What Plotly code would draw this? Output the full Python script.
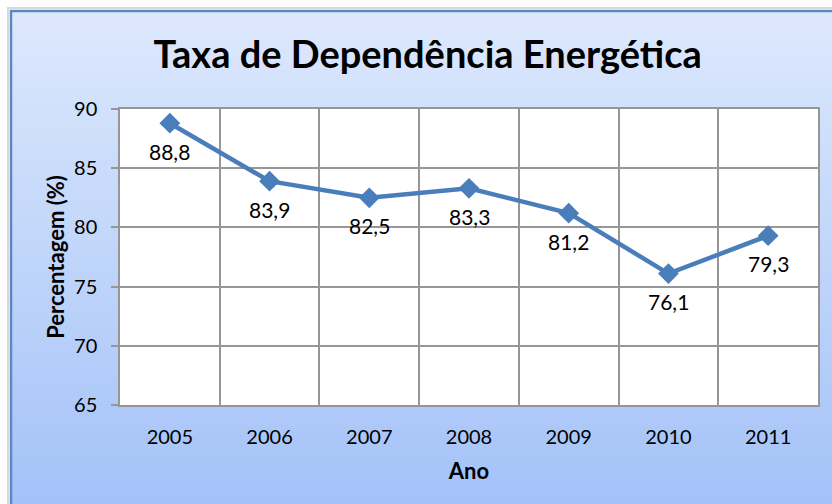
import plotly.graph_objects as go

years = ["2005", "2006", "2007", "2008", "2009", "2010", "2011"]
values = [88.8, 83.9, 82.5, 83.3, 81.2, 76.1, 79.3]
y_ticks = [65, 70, 75, 80, 85, 90]
labels = [f"{v:.1f}".replace(".", ",") for v in values]

W, H = 832, 504
ML, MR, MT, MB = 120, 14, 109, 99
PW, PH = W - ML - MR, H - MT - MB


def px_x(p):
    return (p - ML) / PW


def px_y(p):
    return (H - MB - p) / PH


FONT = "Lato"
LINE = "#4a7ebb"
GRID = "#969696"

fig = go.Figure()
fig.add_trace(go.Scatter(
    x=years, y=values, mode="lines+markers",
    line=dict(color=LINE, width=4.5),
    marker=dict(symbol="diamond", size=16, color=LINE),
    hoverinfo="skip", showlegend=False,
))

shapes = []
# gradient background
top = (221, 232, 252)
bot = (163, 194, 248)
n = 60
y0p, y1p = 11, H + 5
for i in range(n):
    t = i / (n - 1)
    c = tuple(round(top[k] + (bot[k] - top[k]) * t) for k in range(3))
    ya = y0p + (y1p - y0p) * i / n
    yb = y0p + (y1p - y0p) * (i + 1) / n + 0.8
    shapes.append(dict(type="rect", xref="paper", yref="paper",
                       x0=px_x(11), x1=px_x(W + 5), y0=px_y(ya), y1=px_y(yb),
                       fillcolor=f"rgb{c}", line=dict(width=0), layer="below"))
# frame shadow and border
shapes.append(dict(type="rect", xref="paper", yref="paper",
                   x0=px_x(8), x1=px_x(W + 10), y0=px_y(8), y1=px_y(H + 10),
                   fillcolor="rgba(0,0,0,0)", line=dict(color="rgba(180,180,180,0.5)", width=2), layer="below"))
shapes.append(dict(type="rect", xref="paper", yref="paper",
                   x0=px_x(11), x1=px_x(W + 10), y0=px_y(11), y1=px_y(H + 10),
                   fillcolor="rgba(0,0,0,0)", line=dict(color="#5b87c6", width=2.5), layer="below"))
# plot area
shapes.append(dict(type="rect", xref="paper", yref="paper",
                   x0=0, x1=1, y0=0, y1=1, fillcolor="white", line=dict(width=0), layer="below"))

annotations = [dict(x=i, y=v, xref="x", yref="y", text=lab, showarrow=False, yshift=-28,
                    font=dict(family=FONT, size=21, color="black"))
               for i, (v, lab) in enumerate(zip(values, labels))]

fig.update_layout(
    width=W, height=H,
    margin=dict(l=ML, r=MR, t=MT, b=MB),
    paper_bgcolor="white", plot_bgcolor="white",
    shapes=shapes, annotations=annotations,
    title=dict(text="<b>Taxa de Dependência Energética</b>", x=0.514, xanchor="center",
               y=1 - 55 / H, yanchor="middle", xref="container", yref="container",
               font=dict(family=FONT, size=38, color="black")),
    xaxis=dict(type="category", range=[-0.5, 6.5], tickson="boundaries",
               showgrid=True, gridcolor=GRID, gridwidth=1.5,
               showline=True, linecolor=GRID, linewidth=1.5, mirror=True,
               ticks="", ticklabelstandoff=13,
               tickfont=dict(family=FONT, size=20, color="black"),
               title=dict(text="<b>Ano</b>", standoff=17,
                          font=dict(family=FONT, size=22, color="black"))),
    yaxis=dict(range=[65, 90], tickvals=y_ticks, ticktext=[str(t) for t in y_ticks],
               showgrid=True, gridcolor=GRID, gridwidth=1.5,
               showline=True, linecolor=GRID, linewidth=1.5, mirror=True,
               ticks="outside", ticklen=7, tickcolor=GRID, tickwidth=1.5,
               ticklabelstandoff=10,
               tickfont=dict(family=FONT, size=20, color="black"),
               title=dict(text="<b>Percentagem (%)</b>", standoff=3,
                          font=dict(family=FONT, size=22, color="black")),
               zeroline=False),
)

fig.write_html("out.html", config={"displayModeBar": False},
               post_script="document.body.style.margin='0';document.body.style.overflow='hidden';")
